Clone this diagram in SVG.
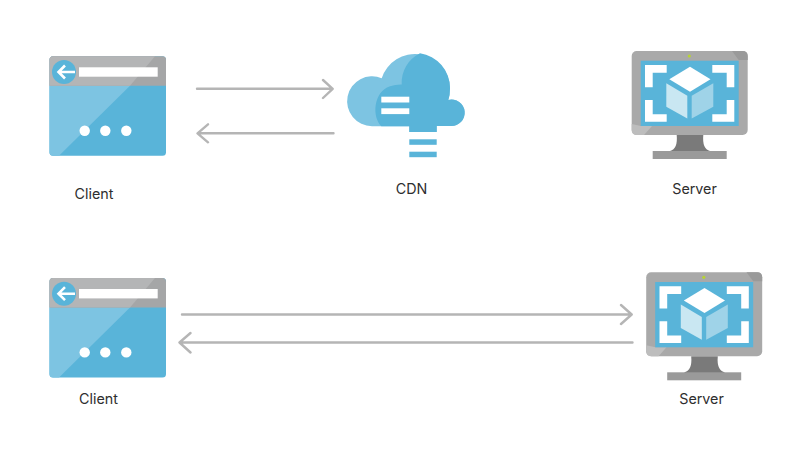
<svg xmlns="http://www.w3.org/2000/svg" width="810" height="454" viewBox="0 0 810 454">
<style>
.lbl{font-family:"Inter","Liberation Sans",sans-serif;font-size:14.3px;fill:#2e2e2e;text-anchor:middle}
.ln{fill:none;stroke:#b5b5b5;stroke-width:2.4;stroke-linecap:round;stroke-linejoin:round}
.blue{fill:#59b4d9}.light{fill:#7dc4e2}.white{fill:#fff}
</style>
<defs>
<g id="browser">
<rect x="49.500" y="56.300" width="116.500" height="99.500" rx="3.500" class="blue"/>
<path d="M49.500 85.700H130L59 155.800H53Q49.500 155.800 49.500 152Z" class="light"/>
<path d="M53 56.300H162.500Q166 56.300 166 60V85.700H49.500V60Q49.500 56.300 53 56.300Z" fill="#a5a6a7"/>
<path d="M53 56.300H155L130 85.700H49.500V60Q49.500 56.300 53 56.300Z" fill="#b4b5b6"/>
<circle cx="64" cy="72" r="12" class="blue"/>
<rect x="79" y="67.300" width="78.700" height="9.400" class="white"/>
<path d="M75 72H59M65 65.500L58.500 72L65 78.500" fill="none" stroke="#fff" stroke-width="2.600"/>
<circle cx="84.700" cy="130.700" r="5.200" class="white"/>
<circle cx="105.300" cy="130.700" r="5.200" class="white"/>
<circle cx="126.300" cy="130.700" r="5.200" class="white"/>
</g>
<g id="monitor">
<path d="M676.700 135H703.300Q702 149 710 151V153H670V151Q678 149 676.700 135Z" fill="#7a7a7a"/>
<rect x="652.700" y="151" width="74" height="8" fill="#9a9a9a"/>
<rect x="631.700" y="51" width="116" height="84" rx="5" fill="#a9a9a9"/>
<path d="M636.700 135Q631.700 135 631.700 130V124L641 126H652L644 135Z" fill="#bdbdbd"/>
<path d="M732 51H742.700Q747.700 51 747.700 56V60H738.700Z" fill="#9a9a9a"/>
<rect x="640.700" y="60.700" width="98" height="65.300" class="blue"/>
<circle cx="689.300" cy="56" r="1.600" fill="#b8d432"/>
<path d="M645 65H666.700V72.700H652.700V87.300H645ZM712.300 65H734.300V87.300H726.700V72.700H712.300ZM645 100H652.700V114.300H666.700V121.700H645ZM726.700 100H734.300V121.700H712.300V114.300H726.700Z" class="white"/>
<path d="M690 66.700L710.500 79.300L690 91.700L669.300 79.300Z" class="white"/>
<path d="M666.300 83.300L687.300 95.700V118.500L666.300 106.700Z" fill="#c9e7f2"/>
<path d="M691.700 95.700L713.300 83.300V106.700L691.700 118.500Z" fill="#9fd3e8"/>
</g>
</defs>
<g id="connectors">
<path class="ln" d="M197 88.800H332.500M323 80L332.700 88.800L323 98"/>
<path class="ln" d="M333.500 133.300H198M208 124.300L197.500 133.300L208 142.300"/>
<path class="ln" d="M182 314.500H631M621 305L631.700 314.500L621 324"/>
<path class="ln" d="M632.500 342.500H180M190.500 333L179.500 342.500L190.500 352.500"/>
</g>
<g id="client-top"><use href="#browser"/><text class="lbl" x="94" y="199">Client</text></g>
<g id="cdn">
<path class="light" d="M381.300 126.300H372A25 25 0 1 1 381.700 78.200A35 35 0 0 1 450 88Q450 95 448.300 100A13.200 13.200 0 1 1 451 126H436.700V132H409.300V126.300Z"/>
<path class="blue" d="M420 53.300A35 35 0 0 1 450 88Q450 95 448.300 100A13.200 13.200 0 1 1 451 126H436.700V132H409.300V126.300H381.300C372 117 373 92 390 86.300Q396 84.300 401.700 84.500C401 72 408 59 420 53.300Z"/>
<rect x="381.300" y="96.700" width="28" height="5.800" class="white"/>
<rect x="381.300" y="108.300" width="28" height="5.800" class="white"/>
<rect x="409.300" y="139.300" width="27.400" height="5.500" class="blue"/>
<rect x="409.300" y="151.700" width="27.400" height="5.500" class="blue"/>
<text class="lbl" x="411.500" y="194">CDN</text>
</g>
<g id="server-top"><use href="#monitor"/><text class="lbl" x="694.500" y="194">Server</text></g>
<g id="client-bottom"><use href="#browser" transform="translate(0 221.700)"/><text class="lbl" x="98.500" y="404">Client</text></g>
<g id="server-bottom"><use href="#monitor" transform="translate(14.500 221.300)"/><text class="lbl" x="701.500" y="404">Server</text></g>
</svg>
